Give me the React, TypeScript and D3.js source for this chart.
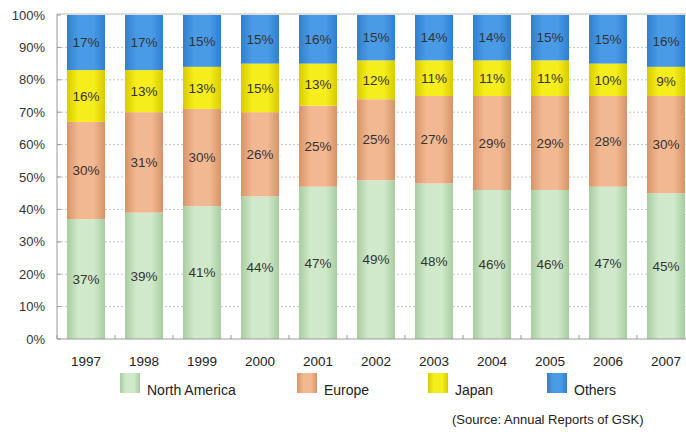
import React from "react";
import * as d3 from "d3";

const years = ["1997","1998","1999","2000","2001","2002","2003","2004","2005","2006","2007"];
const northAmerica = [37, 39, 41, 44, 47, 49, 48, 46, 46, 47, 45];
const europe = [30, 31, 30, 26, 25, 25, 27, 29, 29, 28, 30];
const japan = [16, 13, 13, 15, 13, 12, 11, 11, 11, 10, 9];
const others = [17, 17, 15, 15, 16, 15, 14, 14, 15, 15, 16];
const seriesNames = ["North America", "Europe", "Japan", "Others"];
const yTicks = [0, 10, 20, 30, 40, 50, 60, 70, 80, 90, 100];

const colors = [
  { edge: "#a8cda0", mid: "#d0e9cb" },
  { edge: "#d69468", mid: "#f2b892" },
  { edge: "#d8cb00", mid: "#f6ee1c" },
  { edge: "#2f7fcf", mid: "#4a9be6" },
];

export default function App() {
  const W = 686, H = 439;
  const left = 57, top = 15, bottom = 339;
  const x = d3.scaleBand<string>().domain(years).range([left, 695]).paddingInner(20 / 58).paddingOuter(0.1724);
  const y = d3.scaleLinear().domain([0, 100]).range([bottom, top]).clamp(true);
  const data = years.map((yr, i) => ({ year: yr, v0: northAmerica[i], v1: europe[i], v2: japan[i], v3: others[i] }));
  const stack = d3.stack<any>().keys(["v0", "v1", "v2", "v3"]);
  const series = stack(data);
  const bw = x.bandwidth();
  const font = "Liberation Sans, Arial, sans-serif";
  // the top segment fills the bar up to 100% (rounded shares)
  const topOf = (si: number, d: any) => (si === 3 ? 100 : Math.min(100, d[1]));

  const legendX = [120, 297, 428, 547];

  return (
    <svg width={W} height={H} style={{ position: "absolute", left: 0, top: 0, background: "#fff" }} fontFamily={font}>
      <defs>
        {colors.map((c, i) => (
          <linearGradient key={i} id={`g${i}`} x1="0" x2="1" y1="0" y2="0">
            <stop offset="0" stopColor={c.edge} />
            <stop offset="0.3" stopColor={c.mid} />
            <stop offset="0.7" stopColor={c.mid} />
            <stop offset="1" stopColor={c.edge} />
          </linearGradient>
        ))}
      </defs>
      {/* gridlines */}
      {yTicks.slice(1, 10).map((t) => (
        <line key={t} x1={left} x2={W} y1={y(t)} y2={y(t)} stroke="#c4c4c4" strokeDasharray="2,2" strokeWidth={1} />
      ))}
      {/* bars */}
      {series.map((s, si) => (
        <g key={si}>
          {s.map((d: any, i: number) => (
            <rect key={i} x={x(years[i])} width={bw} y={y(topOf(si, d))} height={Math.max(0, y(d[0]) - y(topOf(si, d)))} fill={`url(#g${si})`} />
          ))}
        </g>
      ))}
      {/* labels */}
      {series.map((s, si) => (
        <g key={si}>
          {s.map((d: any, i: number) => (
            <text key={i} x={(x(years[i]) as number) + bw / 2} y={(y(d[0]) + y(topOf(si, d))) / 2} dy="0.35em" textAnchor="middle" fontSize={13.5} fill="#333">
              {`${d.data[`v${si}`]}%`}
            </text>
          ))}
        </g>
      ))}
      {/* frame */}
      <line x1={left} x2={left} y1={top - 1} y2={bottom} stroke="#9a9a9a" />
      <line x1={left} x2={W} y1={bottom} y2={bottom} stroke="#9a9a9a" />
      <line x1={left} x2={W} y1={top - 1} y2={top - 1} stroke="#b8b8b8" />
      {yTicks.map((t) => (
        <g key={t}>
          <line x1={left} x2={left + 4} y1={y(t)} y2={y(t)} stroke="#9a9a9a" />
          <text x={45} y={y(t)} dy="0.35em" textAnchor="end" fontSize={13} fill="#333">{`${t}%`}</text>
        </g>
      ))}
      {years.map((yr) => (
        <g key={yr}>
          <line x1={(x(yr) as number) - 10} x2={(x(yr) as number) - 10} y1={bottom} y2={bottom - 4} stroke="#9a9a9a" />
          <text x={(x(yr) as number) + bw / 2} y={366} textAnchor="middle" fontSize={13.5} fill="#222">{yr}</text>
        </g>
      ))}
      {/* legend */}
      {seriesNames.map((n, i) => (
        <g key={n}>
          <rect x={legendX[i]} y={373} width={20} height={20} fill={`url(#g${i})`} />
          <text x={legendX[i] + 27} y={395} fontSize={14} fill="#222">{n}</text>
        </g>
      ))}
      <text x={452} y={424} fontSize={13} fill="#222">(Source: Annual Reports of GSK)</text>
    </svg>
  );
}
